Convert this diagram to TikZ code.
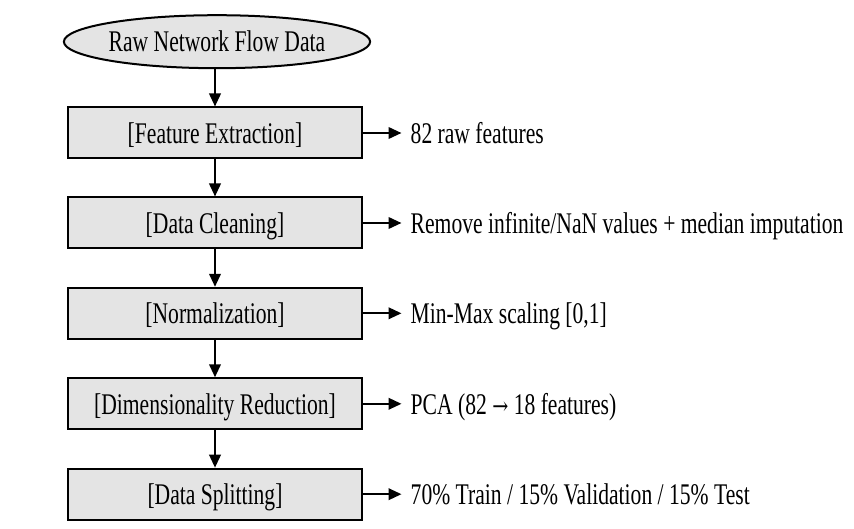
\documentclass[tikz,border=0pt]{standalone}
\usepackage{fontspec}
\setmainfont{Liberation Serif}[FakeStretch=0.72]
\newfontfamily\arrowfont{DejaVu Serif}[FakeStretch=0.8]
\usetikzlibrary{shapes.geometric,arrows.meta}
\definecolor{boxfill}{RGB}{228,228,228}
\begin{document}
\begin{tikzpicture}[x=1pt,y=1pt,
  every node/.style={font=\fontsize{30}{36}\selectfont, text height=20.5pt, text depth=0pt},
  stepbox/.style={draw=black, line width=2pt, fill=boxfill, minimum width=293.4pt, minimum height=51pt, inner sep=0pt},
  startnode/.style={ellipse, draw=black, line width=2pt, fill=boxfill, minimum width=298pt, minimum height=53pt, inner sep=0pt},
  note/.style={anchor=west, inner sep=0pt},
  arr/.style={line width=2.2pt, -{Triangle[length=13pt,width=11.5pt]}}
]
\useasboundingbox (0,0) rectangle (854,-529);
\fill[white] (0,0) rectangle (854,-529);

\node[startnode] (e) at (217,-41.7) {Raw Network Flow Data};
\node[stepbox] (b1) at (215,-133)   {[Feature Extraction]};
\node[stepbox] (b2) at (215,-223)   {[Data Cleaning]};
\node[stepbox] (b3) at (215,-313.3) {[Normalization]};
\node[stepbox] (b4) at (215,-403.8) {[Dimensionality Reduction]};
\node[stepbox] (b5) at (215,-494.2) {[Data Splitting]};

\node[note] (t1) at (410.5,-133)   {82 raw features};
\node[note] (t2) at (410.5,-223)   {Remove infinite/NaN values + median imputation};
\node[note] (t3) at (410.5,-313.3) {Min-Max scaling [0,1]};
\node[note] (t4) at (410.5,-403.8) {PCA (82 {\arrowfont\fontsize{24}{24}\selectfont →} 18 features)};
\node[note] (t5) at (410.5,-494.2) {70\% Train / 15\% Validation / 15\% Test};

\draw[arr] (e.south -| b1.north) -- (b1.north);
\draw[arr] (b1.south) -- (b2.north);
\draw[arr] (b2.south) -- (b3.north);
\draw[arr] (b3.south) -- (b4.north);
\draw[arr] (b4.south) -- (b5.north);

\foreach \i in {1,...,5}{
  \draw[arr] (b\i.east) -- ([xshift=-9pt]b\i.east -| t\i.west);
}
\end{tikzpicture}
\end{document}
